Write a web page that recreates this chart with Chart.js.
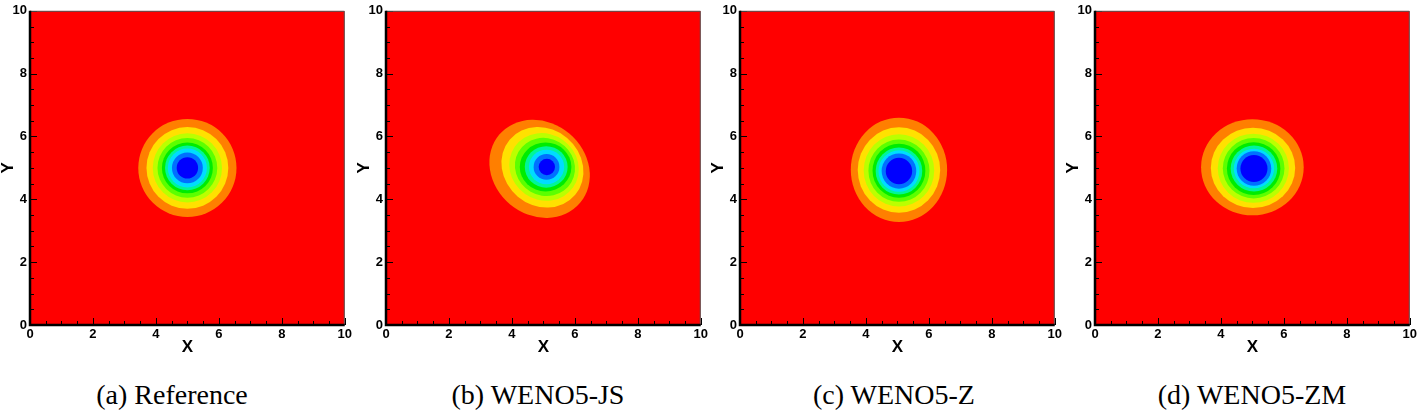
<!DOCTYPE html>
<html>
<head>
<meta charset="utf-8">
<script src="https://cdn.jsdelivr.net/npm/chart.js@4/dist/chart.umd.min.js"></script>
<style>
  html, body { margin: 0; padding: 0; background: #fff; }
  body { width: 1417px; height: 414px; position: relative; overflow: hidden; }
  .panel { position: absolute; top: 0; width: 354px; height: 356px; }
  .caption { position: absolute; top: 377px; width: 354px; height: 36px; line-height: 36px; text-align: center;
    font-family: "Liberation Serif", "Times New Roman", serif; font-size: 28px; color: #000; white-space: nowrap; }
</style>
</head>
<body>
<div class="panel" style="left:0px"><canvas id="c0"></canvas></div>
<div class="panel" style="left:355.5px"><canvas id="c1"></canvas></div>
<div class="panel" style="left:710px"><canvas id="c2"></canvas></div>
<div class="panel" style="left:1064.5px"><canvas id="c3"></canvas></div>
<div class="caption" id="t0" style="left:-5px"></div>
<div class="caption" id="t1" style="left:361px"></div>
<div class="caption" id="t2" style="left:717px"></div>
<div class="caption" id="t3" style="left:1075px"></div>
<script>
// Contour plots of the vortex, drawn as filled level rings

const captions = ['(a) Reference', '(b) WENO5-JS', '(c) WENO5-Z', '(d) WENO5-ZM'];
const axisTicks = [0, 2, 4, 6, 8, 10];
const backgroundColor = '#FF0000';
// contour level colours, outermost first
const levelColors = ['#FF7F00', '#FFE100', '#BBFF00', '#5CFF00', '#00EC00', '#00F59A', '#00DCFF', '#0070FF', '#0000FF'];

// rings per panel, outermost first: [cx, cy, rx, ry, tilt in degrees]
const ringsReference = [
  [5.00, 5.00, 1.56, 1.56, 0], [5.00, 5.00, 1.30, 1.30, 0], [5.00, 5.00, 1.10, 1.10, 0],
  [5.00, 5.00, 0.95, 0.95, 0], [5.00, 5.00, 0.81, 0.81, 0], [5.00, 5.00, 0.71, 0.71, 0],
  [5.00, 5.00, 0.62, 0.62, 0], [5.00, 5.00, 0.49, 0.49, 0], [5.00, 5.00, 0.34, 0.34, 0]
];
const ringsJS = [
  [4.88, 4.97, 1.68, 1.47, -40], [4.97, 5.02, 1.36, 1.22, -40], [5.02, 5.03, 1.13, 1.05, -35],
  [5.05, 5.03, 0.97, 0.91, -30], [5.07, 5.03, 0.82, 0.78, 0], [5.09, 5.03, 0.68, 0.66, 0],
  [5.10, 5.03, 0.56, 0.55, 0], [5.10, 5.03, 0.41, 0.41, 0], [5.11, 5.03, 0.26, 0.26, 0]
];
const ringsZ = [
  [5.05, 4.94, 1.53, 1.66, 0], [5.05, 4.93, 1.31, 1.36, 0], [5.05, 4.92, 1.12, 1.15, 0],
  [5.05, 4.91, 0.97, 0.99, 0], [5.05, 4.91, 0.84, 0.86, 0], [5.05, 4.90, 0.74, 0.75, 0],
  [5.05, 4.90, 0.65, 0.66, 0], [5.05, 4.90, 0.55, 0.56, 0], [5.05, 4.90, 0.42, 0.42, 0]
];
const ringsZM = [
  [5.00, 5.02, 1.63, 1.53, 0], [5.02, 5.00, 1.34, 1.28, 0], [5.03, 4.99, 1.13, 1.10, 0],
  [5.04, 4.99, 0.98, 0.96, 0], [5.04, 4.98, 0.85, 0.84, 0], [5.05, 4.98, 0.74, 0.73, 0],
  [5.05, 4.98, 0.64, 0.63, 0], [5.05, 4.98, 0.55, 0.55, 0], [5.05, 4.98, 0.43, 0.43, 0]
];
const panelRings = [ringsReference, ringsJS, ringsZ, ringsZM];

const contourPlugin = {
  id: 'contour',
  beforeDatasetsDraw(chart, args, opts) {
    const { ctx, chartArea: a, scales: { x, y } } = chart;
    ctx.save();
    ctx.beginPath();
    ctx.rect(a.left, a.top, a.width, a.height);
    ctx.clip();
    ctx.fillStyle = backgroundColor;
    ctx.fillRect(a.left, a.top, a.width, a.height);
    opts.rings.forEach((r, i) => {
      const cx = x.getPixelForValue(r[0]);
      const cy = y.getPixelForValue(r[1]);
      const rx = x.getPixelForValue(r[0] + r[2]) - cx;
      const ry = cy - y.getPixelForValue(r[1] + r[3]);
      ctx.fillStyle = levelColors[i];
      ctx.beginPath();
      ctx.ellipse(cx, cy, rx, ry, -r[4] * Math.PI / 180, 0, Math.PI * 2);
      ctx.fill();
    });
    ctx.restore();
  },
  afterDraw(chart) {
    const { ctx, chartArea: a, scales: { x, y } } = chart;
    ctx.save();
    // inward ticks, minor every 0.5
    ctx.strokeStyle = '#000';
    ctx.lineWidth = 1;
    for (let v = 0; v <= 10; v += 0.5) {
      const len = v % 2 === 0 ? 7 : 4;
      const px = Math.round(x.getPixelForValue(v)) + 0.5;
      const py = Math.round(y.getPixelForValue(v)) + 0.5;
      ctx.beginPath();
      ctx.moveTo(px, a.bottom); ctx.lineTo(px, a.bottom - len);
      ctx.moveTo(a.left, py); ctx.lineTo(a.left + len, py);
      ctx.stroke();
    }
    // thin frame on top and right
    ctx.strokeStyle = '#555';
    ctx.beginPath();
    ctx.moveTo(a.left, a.top + 0.5); ctx.lineTo(a.right - 0.5, a.top + 0.5); ctx.lineTo(a.right - 0.5, a.bottom);
    ctx.stroke();
    // heavy axis lines left and bottom
    ctx.strokeStyle = '#000';
    ctx.lineWidth = 2.5;
    ctx.beginPath();
    ctx.moveTo(a.left, a.top); ctx.lineTo(a.left, a.bottom); ctx.lineTo(a.right, a.bottom);
    ctx.stroke();
    ctx.restore();
  }
};

const tickFont = { family: 'Liberation Sans', size: 13, weight: 'bold' };
const titleFont = { family: 'Liberation Sans', size: 17, weight: 'bold', lineHeight: 1 };

function makePanel(i) {
  document.getElementById('t' + i).textContent = captions[i];
  return new Chart(document.getElementById('c' + i), {
    type: 'scatter',
    data: { datasets: [] },
    options: {
      responsive: true,
      maintainAspectRatio: false,
      animation: false,
      layout: { padding: { top: 5, right: 7, left: 0, bottom: 0 } },
      plugins: { legend: { display: false }, tooltip: { enabled: false }, contour: { rings: panelRings[i] } },
      scales: {
        x: {
          type: 'linear', min: 0, max: 10,
          afterFit: s => { s.height = 31; },
          afterBuildTicks: s => { s.ticks = axisTicks.map(v => ({ value: v })); },
          grid: { display: false, drawTicks: false },
          border: { display: false },
          ticks: { font: tickFont, color: '#000', padding: 2, maxRotation: 0 },
          title: { display: true, text: 'X', font: titleFont, color: '#000', padding: 0 }
        },
        y: {
          type: 'linear', min: 0, max: 10,
          afterFit: s => { s.width = 30; },
          afterBuildTicks: s => { s.ticks = axisTicks.map(v => ({ value: v })); },
          grid: { display: false, drawTicks: false },
          border: { display: false },
          ticks: { font: tickFont, color: '#000', padding: 3 },
          title: { display: true, text: 'Y', font: titleFont, color: '#000', padding: 0 }
        }
      }
    },
    plugins: [contourPlugin]
  });
}

captions.forEach((c, i) => makePanel(i));
</script>
</body>
</html>
